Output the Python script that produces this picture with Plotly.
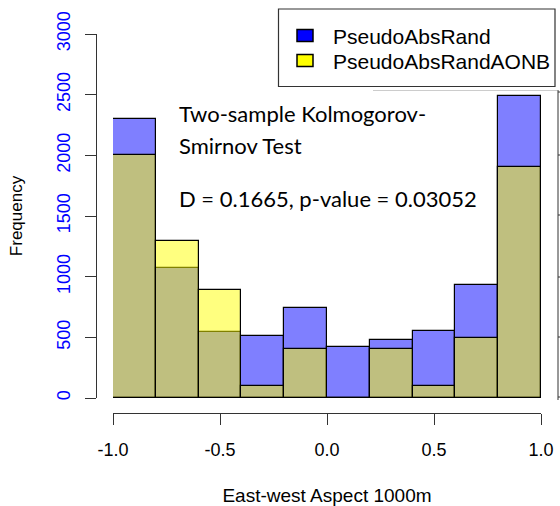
import plotly.graph_objects as go

# ---- data ----
bin_edges = [-1.0, -0.8, -0.6, -0.4, -0.2, 0.0, 0.2, 0.4, 0.6, 0.8, 1.0]
counts_rand = [2300, 1075, 540, 515, 745, 420, 480, 555, 935, 2485]
counts_aonb = [2000, 1290, 890, 100, 400, 0, 400, 100, 495, 1900]
x_tick_vals = [-1.0, -0.5, 0.0, 0.5, 1.0]
x_tick_text = ["-1.0", "-0.5", "0.0", "0.5", "1.0"]
y_tick_vals = [0, 500, 1000, 1500, 2000, 2500, 3000]
y_tick_text = ["0", "500", "1000", "1500", "2000", "2500", "3000"]
series_names = ["PseudoAbsRand", "PseudoAbsRandAONB"]
legend_colors = ["#0000FF", "#FFFF00"]

centers = [(a + b) / 2 for a, b in zip(bin_edges[:-1], bin_edges[1:])]
widths = [b - a for a, b in zip(bin_edges[:-1], bin_edges[1:])]

W, H = 560, 506
ML, MR, MT, MB = 96, 19, 34, 93
PW = W - ML - MR  # 445
PH = H - MT - MB  # 379


def px(xpix):
    return (xpix - ML) / PW


def py(ypix):
    return (H - MB - ypix) / PH


fig = go.Figure()
fig.add_trace(go.Bar(
    x=centers, y=counts_rand, width=widths, name=series_names[0],
    marker=dict(color="rgba(0,0,255,0.5)", line=dict(color="black", width=1.2)),
))
fig.add_trace(go.Bar(
    x=centers, y=counts_aonb, width=widths, name=series_names[1],
    marker=dict(color="rgba(255,255,0,0.5)", line=dict(color="black", width=1.2)),
))

arial = "Liberation Sans, Arial, sans-serif"

fig.update_layout(
    width=W, height=H,
    margin=dict(l=ML, r=MR, t=MT, b=MB, pad=0, autoexpand=False),
    paper_bgcolor="white", plot_bgcolor="white",
    barmode="overlay", bargap=0,
    showlegend=False,
    xaxis=dict(
        range=[-1, 1], domain=[px(113), 1], anchor="free", position=0,
        showline=True, linecolor="#333333", linewidth=1.2,
        ticks="outside", ticklen=11, tickcolor="#333333", tickwidth=1.2,
        tickvals=x_tick_vals, ticktext=x_tick_text, ticklabelstandoff=9,
        tickfont=dict(family=arial, size=18, color="black"),
        showgrid=False, zeroline=False,
        title=dict(text="East-west Aspect 1000m",
                   font=dict(family=arial, size=19, color="black"),
                   standoff=33),
    ),
    yaxis=dict(
        range=[0, 3000], domain=[py(398), 1], anchor="free", position=0,
        showline=True, linecolor="#333333", linewidth=1.2,
        ticks="outside", ticklen=11, tickcolor="#333333", tickwidth=1.2,
        tickvals=y_tick_vals, ticktext=y_tick_text, tickangle=-90,
        ticklabelstandoff=8,
        tickfont=dict(family=arial, size=18, color="blue"),
        showgrid=False, zeroline=False,
        title=dict(text="Frequency",
                   font=dict(family=arial, size=17, color="black"),
                   standoff=25),
    ),
)

ann_font = dict(family="Lato, Open Sans, sans-serif", size=22, color="black")
for txt, yp in [("Two-sample Kolmogorov-", 114), ("Smirnov Test", 145),
                ("D = 0.1665, p-value = 0.03052", 198)]:
    fig.add_annotation(text=txt, xref="paper", yref="paper", x=px(177), y=py(yp),
                       xanchor="left", yanchor="middle", showarrow=False, font=ann_font)

# legend (drawn by hand to match the boxed R legend)
fig.add_shape(type="rect", xref="paper", yref="paper", x0=px(278.5), x1=px(555),
              y0=py(86.5), y1=py(9), line=dict(color="#333333", width=1.2),
              fillcolor="white", layer="above")
for i, (nm, col) in enumerate(zip(series_names, legend_colors)):
    yc = 35.5 + 25 * i
    fig.add_shape(type="rect", xref="paper", yref="paper", x0=px(297), x1=px(313),
                  y0=py(yc + 6), y1=py(yc - 6), line=dict(color="black", width=1.5),
                  fillcolor=col, layer="above")
    fig.add_annotation(text=nm, xref="paper", yref="paper", x=px(331), y=py(yc + 1),
                       xanchor="left", yanchor="middle", showarrow=False,
                       font=dict(family=arial, size=21, color="black"))

# cropped neighbouring-panel remnants at the right edge
fig.add_shape(type="line", xref="paper", yref="paper", x0=px(558), x1=px(558),
              y0=py(90), y1=py(400), line=dict(color="#333333", width=1))
for ty in [92, 155, 215, 277, 337, 397]:
    fig.add_shape(type="line", xref="paper", yref="paper", x0=px(558), x1=px(561),
                  y0=py(ty), y1=py(ty), line=dict(color="#333333", width=1))
fig.add_shape(type="line", xref="paper", yref="paper", x0=px(373), x1=px(557),
              y0=py(90.5), y1=py(90.5), line=dict(color="#cccccc", width=1))

fig.write_html("out.html")
